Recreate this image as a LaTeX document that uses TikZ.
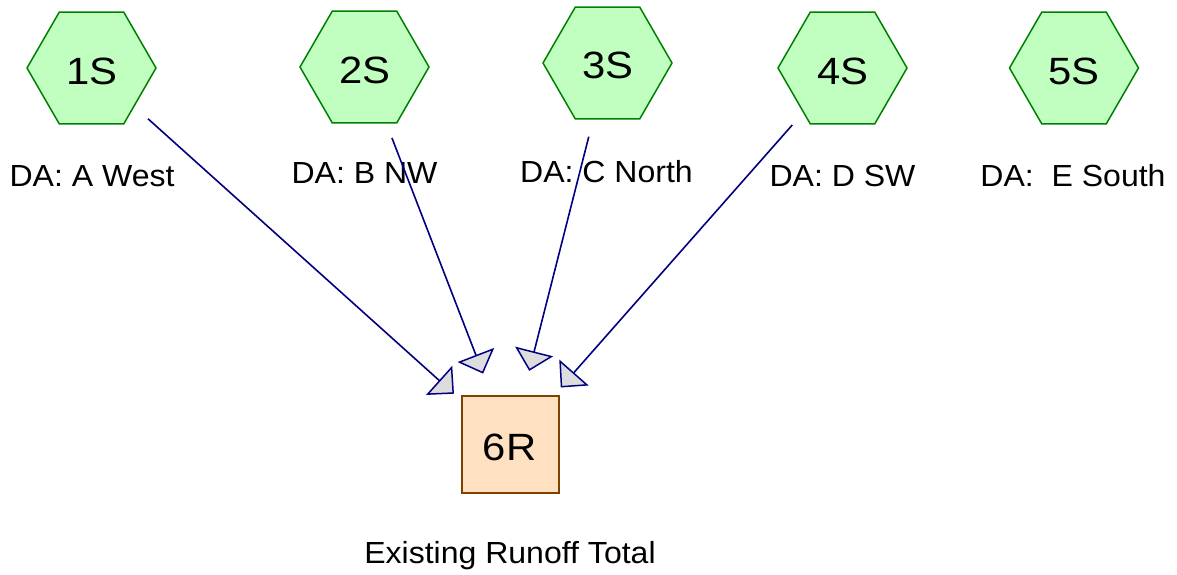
\documentclass[tikz,border=0pt]{standalone}
\usepackage{fontspec}
\setmainfont{Liberation Sans}
\newfontfamily\hexfont[FakeStretch=1.1]{Liberation Sans}
\newfontfamily\lblfont[FakeStretch=1.05]{Liberation Sans}
\usetikzlibrary{shapes.geometric,arrows.meta}
\definecolor{hexfill}{RGB}{192,255,192}
\definecolor{hexdraw}{RGB}{0,128,0}
\definecolor{boxfill}{RGB}{255,224,192}
\definecolor{boxdraw}{RGB}{128,64,0}
\definecolor{flow}{RGB}{0,0,128}
\definecolor{tipfill}{RGB}{221,221,221}
\tikzset{
  hexnode/.style={regular polygon, regular polygon sides=6, minimum size=129pt,
    inner sep=0pt, fill=hexfill, draw=hexdraw, line width=1.5pt},
  reachnode/.style={rectangle, minimum size=97pt, inner sep=0pt,
    fill=boxfill, draw=boxdraw, line width=1.6pt},
  bigtxt/.style={anchor=base, font=\hexfont\fontsize{38}{40}\selectfont, inner sep=0pt},
  lbl/.style={anchor=base, font=\lblfont\fontsize{30.5}{32}\selectfont, inner sep=0pt},
  flowline/.style={draw=flow, line width=1.6pt, shorten <=76pt, shorten >=76pt,
    -{Triangle[length=20pt,width=39pt,fill=tipfill,line width=1.5pt]}}
}
\begin{document}
\begin{tikzpicture}[x=1pt,y=-1pt]
\useasboundingbox (0,0) rectangle (1177,574);
\node[hexnode] (s1) at (91.5,68) {};
\node[hexnode] (s2) at (364.5,67) {};
\node[hexnode] (s3) at (607.5,63) {};
\node[hexnode] (s4) at (842.5,68) {};
\node[hexnode] (s5) at (1074,68) {};
\node[reachnode] (r6) at (510.5,444.5) {};
\node[bigtxt] (t1) at (92,84.3) {1S};
\node[bigtxt] (t2) at (365,83.3) {2S};
\node[bigtxt] (t3) at (608,78.3) {3S};
\node[bigtxt] (t4) at (843,84.3) {4S};
\node[bigtxt] (t5) at (1074,84.3) {5S};
\node[bigtxt] (t6) at (509.5,460) {6R};
\node[lbl] (l1) at (92,186.7) {DA: A West};
\node[lbl] (l2) at (364.5,183) {DA: B NW};
\node[lbl] (l3) at (606.5,182) {DA: C North};
\node[lbl] (l4) at (842.5,186.7) {DA: D SW};
\node[lbl] (l5) at (1073,186.7) {DA:~ E South};
\node[lbl] (l6) at (510,563.3) {Existing Runoff Total};
\draw[flowline] (s1.center) -- (r6.center);
\draw[flowline] (s2.center) -- (r6.center);
\draw[flowline] (s3.center) -- (r6.center);
\draw[flowline] (s4.center) -- (r6.center);
\end{tikzpicture}
\end{document}
